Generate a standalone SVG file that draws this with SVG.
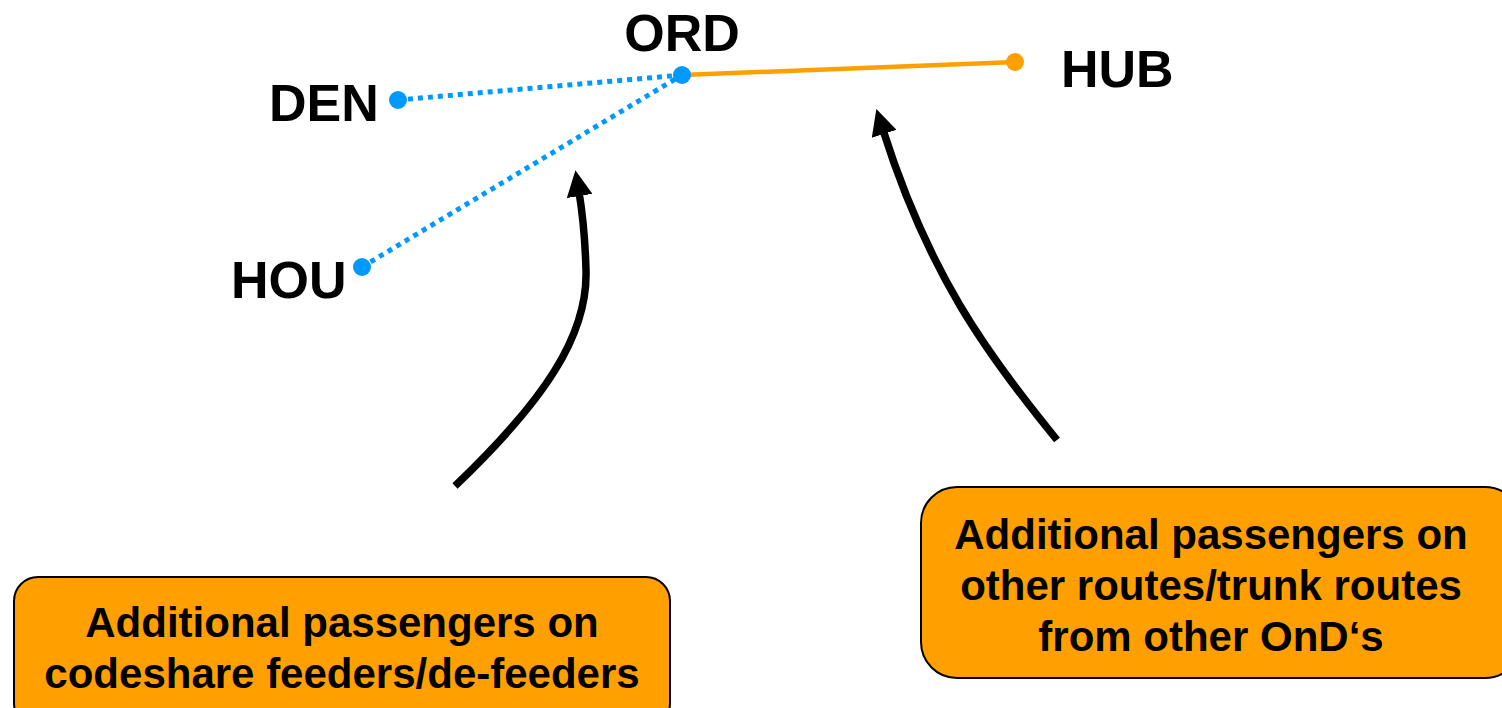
<svg xmlns="http://www.w3.org/2000/svg" width="1502" height="708" viewBox="0 0 1502 708">
<style>
.lbl{font-family:"Liberation Sans",Arial,sans-serif;font-weight:bold;font-size:52px;fill:#000}
.btxt{font-family:"Liberation Sans",Arial,sans-serif;font-weight:bold;font-size:42px;fill:#000;text-anchor:middle}
.box{fill:#FFA000;stroke:#000;stroke-width:2}
.feed{stroke:#0099FF;stroke-width:5;stroke-dasharray:5,5;fill:none}
.trunk{stroke:#FFA000;stroke-width:4.5;fill:none}
.arr{stroke:#000;stroke-width:7.5;fill:none;marker-end:url(#ah)}
</style>
<defs>
<marker id="ah" markerUnits="userSpaceOnUse" markerWidth="26" markerHeight="26" viewBox="0 0 26 26" refX="4" refY="13" orient="auto">
<path d="M0,0 L26,13 L0,26 Z" fill="#000"/>
</marker>
</defs>
<rect width="1502" height="708" fill="#fff"/>
<g id="connectors">
<line class="feed" x1="398" y1="100" x2="682" y2="75"/>
<line class="feed" x1="362" y1="267" x2="682" y2="75"/>
<line class="trunk" x1="682" y1="75" x2="1015" y2="62"/>
<path class="arr" d="M455,486 C545,400 588,335 586,270 C585,235 582,210 579,192"/>
<path class="arr" d="M1057,440 C985,352 928,272 883,130"/>
</g>
<g id="ORD"><circle cx="682" cy="75" r="9" fill="#0099FF"/><text class="lbl" x="682" y="51" text-anchor="middle">ORD</text></g>
<g id="DEN"><circle cx="398" cy="100" r="9" fill="#0099FF"/><text class="lbl" x="269" y="121">DEN</text></g>
<g id="HOU"><circle cx="362" cy="267" r="9" fill="#0099FF"/><text class="lbl" x="231" y="298">HOU</text></g>
<g id="HUB"><circle cx="1015" cy="62" r="9" fill="#FFA000"/><text class="lbl" x="1061" y="87">HUB</text></g>
<g id="box-codeshare">
<rect class="box" x="14" y="577" width="656" height="150" rx="24"/>
<text class="btxt" x="342" y="637">Additional passengers on</text>
<text class="btxt" x="342" y="688">codeshare feeders/de-feeders</text>
</g>
<g id="box-trunk">
<rect class="box" x="921" y="487" width="600" height="191" rx="36"/>
<text class="btxt" x="1211" y="549">Additional passengers on</text>
<text class="btxt" x="1211" y="600">other routes/trunk routes</text>
<text class="btxt" x="1211" y="651">from other OnD‘s</text>
</g>
</svg>
